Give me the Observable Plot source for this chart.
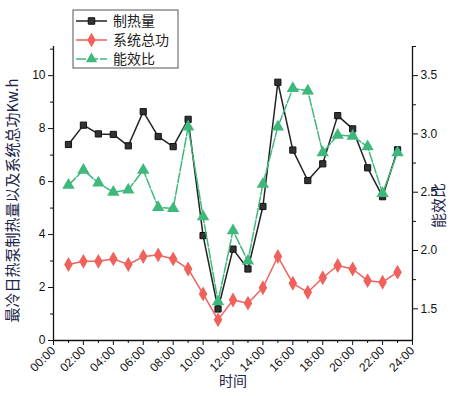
<!DOCTYPE html>
<html>
<head>
<meta charset="utf-8">
<script src="https://cdn.jsdelivr.net/npm/d3@7"></script>
<script src="https://cdn.jsdelivr.net/npm/@observablehq/plot@0.6"></script>
<style>
  html, body { margin: 0; padding: 0; background: #fff; }
  #chart { width: 455px; height: 396px; }
</style>
</head>
<body>
<div id="chart"></div>
<script>
// ---- data ----
const hours = [1,2,3,4,5,6,7,8,9,10,11,12,13,14,15,16,17,18,19,20,21,22,23];
const heat  = [7.40,8.13,7.80,7.78,7.35,8.64,7.70,7.32,8.35,3.96,1.19,3.45,2.70,5.06,9.75,7.19,6.04,6.67,8.49,7.99,6.52,5.43,7.20];
const power = [2.87,2.99,2.99,3.08,2.87,3.17,3.23,3.08,2.70,1.76,0.78,1.53,1.41,1.99,3.17,2.16,1.82,2.37,2.83,2.70,2.26,2.20,2.58];
const cop   = [2.56,2.69,2.58,2.50,2.52,2.69,2.37,2.36,3.06,2.29,1.56,2.17,1.91,2.57,3.06,3.39,3.37,2.84,2.99,2.98,2.89,2.49,2.84];

const xMajor = [0,2,4,6,8,10,12,14,16,18,20,22,24];
const xMinor = [1,3,5,7,9,11,13,15,17,19,21,23];
const yLeftMajor = [0,2,4,6,8,10];
const yLeftMinor = [1,3,5,7,9,11];
const yRightMajor = [1.5,2.0,2.5,3.0,3.5];
const yRightMinor = [1.75,2.25,2.75,3.25,3.75];

const seriesNames = ["制热量","系统总功","能效比"];
const colors = ["#222222","#f1615c","#3fb87c"];
const leftTitle = "最冷日热泵制热量以及系统总功Kw.h";
const rightTitle = "能效比";
const xTitle = "时间";

const leftDomain = [0, 11.1];
const rightDomain = [1.228, 3.75];
const toLeft = v => leftDomain[0] + (v - rightDomain[0]) / (rightDomain[1] - rightDomain[0]) * (leftDomain[1] - leftDomain[0]);
const fromLeft = v => rightDomain[0] + (v - leftDomain[0]) / (leftDomain[1] - leftDomain[0]) * (rightDomain[1] - rightDomain[0]);

const rows = hours.map((h, i) => ({h, heat: heat[i], power: power[i], cop: cop[i], copL: toLeft(cop[i])}));
const fmtHour = d => String(d).padStart(2, "0") + ":00";

const chart = Plot.plot({
  width: 455,
  height: 396,
  marginLeft: 53,
  marginRight: 43,
  marginTop: 46,
  marginBottom: 56,
  style: {fontFamily: "Liberation Sans, Arial, sans-serif", fontSize: "12px", color: "#111", background: "#fff"},
  x: {domain: [0, 24]},
  y: {domain: leftDomain},
  marks: [
    // axis lines
    Plot.ruleX([0], {stroke: "#111", strokeWidth: 1.3}),
    Plot.ruleX([24], {stroke: "#111", strokeWidth: 1.3}),
    Plot.ruleY([0], {stroke: "#111", strokeWidth: 1.3}),
    // x axis
    Plot.axisX({ticks: xMajor, tickSize: 5, tickRotate: -45, tickFormat: fmtHour, label: null, tickPadding: 3}),
    Plot.axisX({ticks: xMinor, tickSize: 3, tickFormat: null, text: null, label: null}),
    // left axis
    Plot.axisY({ticks: yLeftMajor, tickSize: 5, label: null, tickPadding: 3}),
    Plot.axisY({ticks: yLeftMinor, tickSize: 3, text: null, label: null}),
    // right axis
    Plot.axisY({anchor: "right", ticks: yRightMajor.map(toLeft), tickFormat: d => fromLeft(d).toFixed(1), tickSize: 5, label: null, tickPadding: 3}),
    Plot.axisY({anchor: "right", ticks: yRightMinor.map(toLeft), tickSize: 3, text: null, label: null}),
    // series
    Plot.line(rows, {x: "h", y: "heat", stroke: colors[0], strokeWidth: 1.5}),
    Plot.dot(rows, {x: "h", y: "heat", symbol: "square", r: 3.5, fill: "#333", stroke: "#111", strokeWidth: 1}),
    Plot.line(rows, {x: "h", y: "power", stroke: colors[1], strokeWidth: 1.5}),
    Plot.dot(rows, {x: "h", y: "power", symbol: "diamond", r: 4.5, fill: colors[1]}),
    Plot.line(rows, {x: "h", y: "copL", stroke: colors[2], strokeWidth: 1.5, strokeDasharray: "10,2"}),
    Plot.dot(rows, {x: "h", y: "copL", symbol: "triangle", r: 4.6, fill: colors[2]}),
    // titles
    Plot.text([leftTitle], {frameAnchor: "left", textAnchor: "middle", dx: -40, dy: 7, rotate: -90, fontSize: 15, fill: "#1c2448", fontFamily: "Noto Sans CJK SC"}),
    Plot.text([rightTitle], {frameAnchor: "right", textAnchor: "middle", dx: 27, dy: 12, rotate: -90, fontSize: 15, fill: "#1c2448", fontFamily: "Noto Sans CJK SC"}),
    Plot.text([xTitle], {frameAnchor: "bottom", textAnchor: "middle", dy: 45, fontSize: 14, fill: "#1c2448", fontFamily: "Noto Sans CJK SC"})
  ]
});

// legend (in the SVG's own pixel space)
const svg = d3.select(chart);
const lg = svg.append("g").attr("transform", "translate(73,10)");
lg.append("rect").attr("width", 105).attr("height", 58).attr("fill", "#fff").attr("stroke", "#555").attr("stroke-width", 1);
const syms = [d3.symbolSquare, d3.symbolDiamond, d3.symbolTriangle];
const symSize = [42, 62, 56];
seriesNames.forEach((name, i) => {
  const y = 11 + i * 19;
  const g = lg.append("g").attr("transform", `translate(0,${y})`);
  g.append("line").attr("x1", 3).attr("x2", 34).attr("y1", 0).attr("y2", 0)
    .attr("stroke", colors[i]).attr("stroke-width", 1.5)
    .attr("stroke-dasharray", i === 2 ? "10,2" : null);
  g.append("path").attr("d", d3.symbol(syms[i], symSize[i])()).attr("transform", "translate(18.5,0)")
    .attr("fill", i === 0 ? "#333" : colors[i]).attr("stroke", i === 0 ? "#111" : "none");
  g.append("text").attr("x", 40).attr("y", 0).attr("dy", "0.35em")
    .attr("text-anchor", "start")
    .attr("font-family", "Noto Sans CJK SC").attr("font-size", 14).attr("fill", "#222").text(name);
});

document.getElementById("chart").appendChild(chart);
</script>
</body>
</html>
